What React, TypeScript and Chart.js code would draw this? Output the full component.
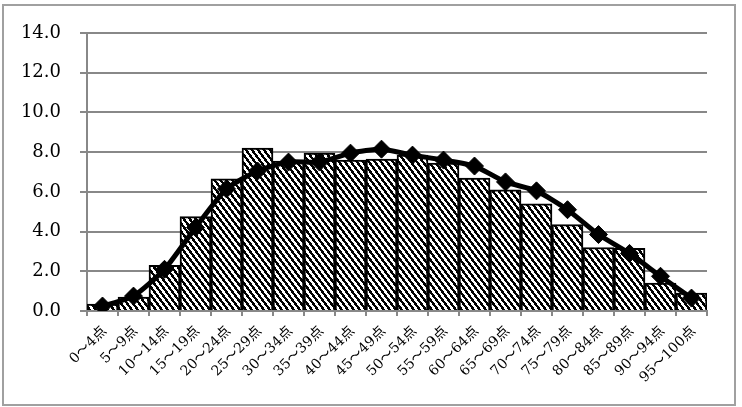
import React, { useEffect, useRef } from "react";
import { Chart, registerables } from "chart.js";

Chart.register(...registerables);

const categories = [
  "0〜4点", "5〜9点", "10〜14点", "15〜19点", "20〜24点",
  "25〜29点", "30〜34点", "35〜39点", "40〜44点", "45〜49点",
  "50〜54点", "55〜59点", "60〜64点", "65〜69点", "70〜74点",
  "75〜79点", "80〜84点", "85〜89点", "90〜94点", "95〜100点",
];

const barValues = [
  0.35, 0.7, 2.3, 4.75, 6.65,
  8.2, 7.55, 7.95, 7.6, 7.65,
  7.85, 7.45, 6.7, 6.1, 5.4,
  4.35, 3.2, 3.15, 1.4, 0.9,
];

const lineValues = [
  0.25, 0.75, 2.1, 4.2, 6.15,
  7.05, 7.5, 7.5, 7.95, 8.15,
  7.85, 7.6, 7.3, 6.5, 6.05,
  5.1, 3.85, 2.9, 1.75, 0.65,
];

const yMin = 0;
const yMax = 14;
const yStep = 2;

const FAMILY = "'DejaVu Serif', 'Liberation Serif', 'Noto Sans CJK JP', serif";

function makePattern(): CanvasPattern | string {
  const c = document.createElement("canvas");
  const w = 6;
  const h = 8;
  c.width = w;
  c.height = h;
  const ctx = c.getContext("2d");
  if (!ctx) return "#777";
  const img = ctx.createImageData(w, h);
  for (let y = 0; y < h; y++) {
    for (let x = 0; x < w; x++) {
      let t = (x - 0.75 * y) % w;
      if (t < 0) t += w;
      const black = t < 3;
      const i = (y * w + x) * 4;
      const v = black ? 0 : 255;
      img.data[i] = v;
      img.data[i + 1] = v;
      img.data[i + 2] = v;
      img.data[i + 3] = 255;
    }
  }
  ctx.putImageData(img, 0, 0);
  const p = ctx.createPattern(c, "repeat");
  return p || "#777";
}

// Draws the category tick labels of the x scale at exactly 45 degrees.
const rotatedXLabels = {
  id: "rotatedXLabels",
  afterDraw(chart: any) {
    const scale = chart.scales.x;
    const ctx = chart.ctx;
    const labels: string[] = chart.data.labels;
    ctx.save();
    ctx.fillStyle = "#000";
    ctx.font = `14px ${FAMILY}`;
    ctx.textAlign = "right";
    ctx.textBaseline = "middle";
    labels.forEach((lab, i) => {
      const x = scale.getPixelForTick(i);
      const y = chart.chartArea.bottom + 18;
      ctx.save();
      ctx.translate(x + 2, y);
      ctx.rotate(-Math.PI / 4);
      ctx.fillText(lab, 0, 0);
      ctx.restore();
    });
    ctx.restore();
  },
};

export default function App() {
  const ref = useRef<HTMLCanvasElement | null>(null);

  useEffect(() => {
    if (!ref.current) return;
    const pattern = makePattern();
    const chart = new Chart(ref.current, {
      type: "bar",
      data: {
        labels: categories,
        datasets: [
          {
            type: "line",
            data: lineValues,
            borderColor: "#000",
            backgroundColor: "#000",
            borderWidth: 5,
            tension: 0.2,
            pointStyle: "rectRot",
            pointRadius: 9,
            pointBackgroundColor: "#000",
            pointBorderColor: "#000",
            pointBorderWidth: 1,
            order: 0,
          } as any,
          {
            type: "bar",
            data: barValues,
            backgroundColor: pattern as any,
            borderColor: "#000",
            borderWidth: 2,
            barPercentage: 1,
            categoryPercentage: 1,
            order: 1,
          } as any,
        ],
      },
      plugins: [rotatedXLabels as any],
      options: {
        animation: false,
        responsive: false,
        maintainAspectRatio: false,
        layout: { padding: { left: 0, top: 33, right: 35, bottom: 0 } },
        plugins: {
          legend: { display: false },
          tooltip: { enabled: false },
        },
        scales: {
          x: {
            grid: {
              drawOnChartArea: false,
              drawTicks: true,
              tickLength: 5,
              color: "#888",
              lineWidth: 2,
              offset: true,
            },
            border: { color: "#888", width: 2 },
            ticks: {
              display: false,
              autoSkip: false,
            },
            afterFit: (s: any) => {
              s.height = 96;
            },
          },
          y: {
            min: yMin,
            max: yMax,
            ticks: {
              stepSize: yStep,
              color: "#000",
              padding: 19,
              font: { family: FAMILY, size: 18 },
              callback: (v: any) => Number(v).toFixed(1),
            },
            grid: { color: "#888", lineWidth: 2, tickLength: 7 },
            border: { color: "#888", width: 2 },
            afterFit: (s: any) => {
              s.width = 87;
            },
          },
        },
      },
    });
    return () => chart.destroy();
  }, []);

  return (
    <div style={{ position: "absolute", left: 0, top: 0, width: 742, height: 407, background: "#fff" }}>
      <canvas ref={ref} width={742} height={407} style={{ display: "block", width: 742, height: 407 }} />
      <div
        style={{
          position: "absolute",
          left: 2,
          top: 4,
          width: 734,
          height: 402,
          border: "2px solid #a0a0a0",
          boxSizing: "border-box",
          pointerEvents: "none",
        }}
      />
    </div>
  );
}
